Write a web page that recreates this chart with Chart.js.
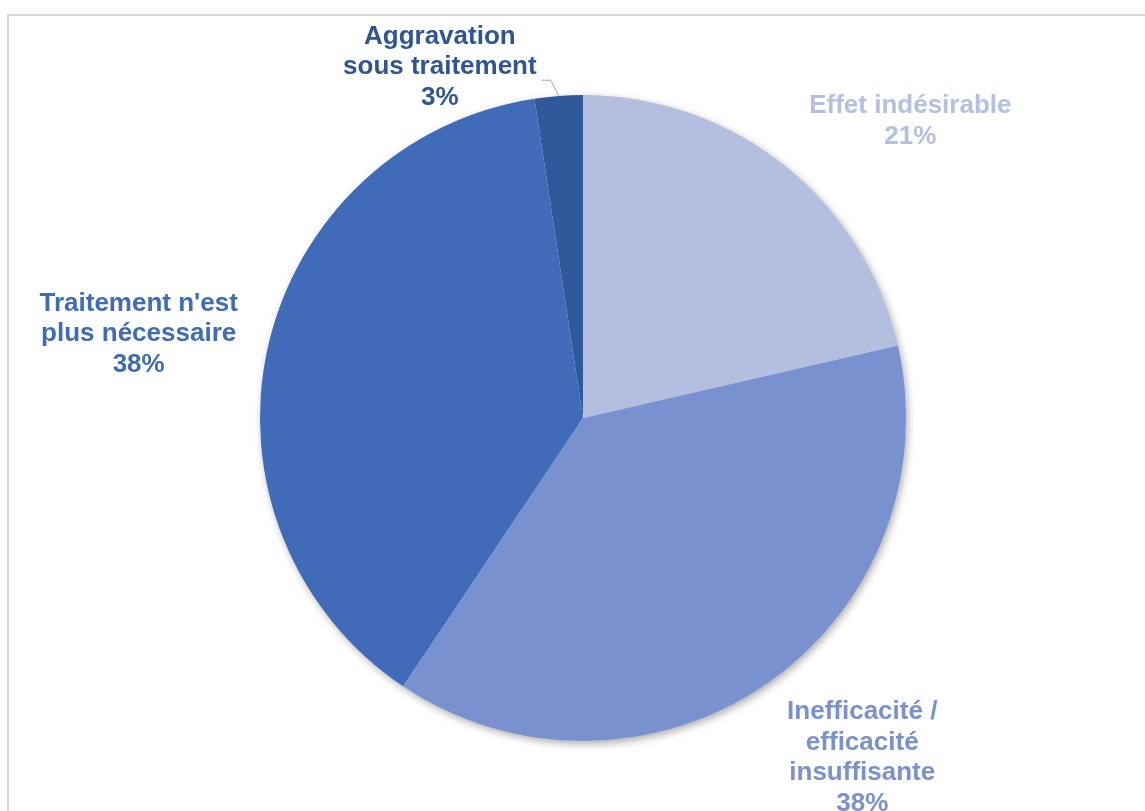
<!DOCTYPE html>
<html>
<head>
<meta charset="utf-8">
<script src="https://cdn.jsdelivr.net/npm/chart.js@4/dist/chart.umd.min.js"></script>
<style>
html,body{margin:0;padding:0;background:#fff;}
#wrap{position:absolute;left:0;top:0;width:1145px;height:811px;}
</style>
</head>
<body>
<div id="wrap"><canvas id="c" width="1145" height="811"></canvas></div>
<script>
const categories = ["Effet indésirable", "Inefficacité / efficacité insuffisante", "Traitement n'est plus nécessaire", "Aggravation sous traitement"];
const labelLines = [["Effet indésirable"], ["Inefficacité /", "efficacité", "insuffisante"], ["Traitement n'est", "plus nécessaire"], ["Aggravation", "sous traitement"]];
const percentages = [21.4, 38.0, 38.2, 2.4];
const percentLabels = ["21%", "38%", "38%", "3%"];

const sliceColors = ["#b4bfdf", "#7a91cf", "#3f6bb9", "#31589a"];
const textColors = ["#b4c0e0", "#7a91cf", "#3f6bb9", "#2f5597"];
// label anchor placement: polar angle (deg clockwise from top) and distance in radii
const labelAngle = [47.8, 140.6, 280.7, 337.8];
const labelDist = [1.368, 1.362, 1.40, 1.173];

const framePlugin = {
  id: 'frame',
  beforeDraw(chart) {
    const ctx = chart.ctx;
    ctx.save();
    ctx.strokeStyle = '#d9d9d9';
    ctx.lineWidth = 2;
    ctx.strokeRect(8, 15, 1200, 900);
    ctx.restore();
  }
};

const shadowPlugin = {
  id: 'pieShadow',
  beforeDatasetsDraw(chart) {
    const arc = chart.getDatasetMeta(0).data[0];
    if (!arc) return;
    const ctx = chart.ctx;
    ctx.save();
    ctx.shadowColor = 'rgba(0,0,0,0.35)';
    ctx.shadowBlur = 9;
    ctx.shadowOffsetX = 2;
    ctx.shadowOffsetY = 3;
    ctx.fillStyle = '#ffffff';
    ctx.beginPath();
    ctx.arc(arc.x, arc.y, arc.outerRadius - 0.5, 0, Math.PI * 2);
    ctx.fill();
    ctx.restore();
  }
};

const labelPlugin = {
  id: 'sliceLabels',
  afterDatasetsDraw(chart) {
    const meta = chart.getDatasetMeta(0);
    const ctx = chart.ctx;
    const lh = 30.5;
    ctx.save();
    ctx.font = 'bold 26px "Liberation Sans", Arial, sans-serif';
    ctx.textAlign = 'center';
    ctx.textBaseline = 'middle';
    meta.data.forEach((arc, i) => {
      const r = arc.outerRadius;
      const a = labelAngle[i] * Math.PI / 180;
      const cx = arc.x + Math.sin(a) * r * labelDist[i];
      const cy = arc.y - Math.cos(a) * r * labelDist[i];
      const lines = labelLines[i].concat([percentLabels[i]]);
      const top = cy - (lines.length - 1) * lh / 2;
      ctx.fillStyle = textColors[i];
      lines.forEach((t, k) => ctx.fillText(t, cx, top + k * lh));
      if (i === 3) {
        // leader line from label to slice edge at mid-angle
        const mid = (arc.startAngle + arc.endAngle) / 2;
        const ex = arc.x + Math.cos(mid) * r;
        const ey = arc.y + Math.sin(mid) * r;
        const w = ctx.measureText(labelLines[i][1]).width;
        const sx = cx + w / 2 + 5;
        const sy = top + lh + 13;
        ctx.strokeStyle = '#a6a6a6';
        ctx.lineWidth = 1;
        ctx.beginPath();
        ctx.moveTo(sx, sy);
        ctx.lineTo(sx + 9, sy);
        ctx.lineTo(ex, ey);
        ctx.stroke();
      }
    });
    ctx.restore();
  }
};

new Chart(document.getElementById('c'), {
  type: 'pie',
  data: {
    labels: categories,
    datasets: [{
      data: percentages,
      backgroundColor: sliceColors,
      borderWidth: 0
    }]
  },
  options: {
    responsive: false,
    animation: false,
    rotation: 0,
    layout: { padding: { top: 95, bottom: 70, left: 21, right: 0 } },
    plugins: { legend: { display: false }, tooltip: { enabled: false } }
  },
  plugins: [framePlugin, shadowPlugin, labelPlugin]
});
</script>
</body>
</html>
